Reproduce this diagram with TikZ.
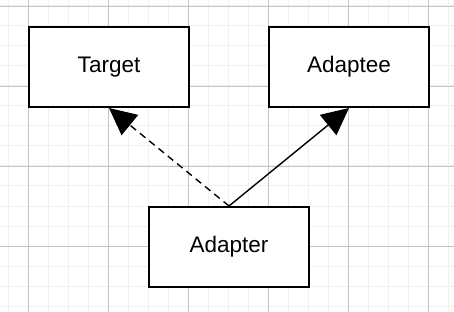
\documentclass[tikz,border=0pt]{standalone}
\usepackage{fontspec}
\setmainfont{Liberation Sans}
\usetikzlibrary{arrows.meta}
\definecolor{gridminor}{HTML}{F1F1F1}
\definecolor{gridmajor}{HTML}{C4C4C4}
\begin{document}
\begin{tikzpicture}[x=1pt,y=-1pt,
  classbox/.style={draw=black, line width=2pt, fill=white, minimum width=160pt, minimum height=80pt, inner sep=0pt, font=\fontsize{22.5}{26}\selectfont},
  conn/.style={line width=1.4pt, -{Triangle[length=27pt,width=26pt]}}]
\useasboundingbox (0,0) rectangle (454,312);
\fill[white] (0,0) rectangle (454,312);
% minor grid
\foreach \x in {8,28,...,448} \draw[gridminor, line width=1pt] (\x,0) -- (\x,312);
\foreach \y in {6,26,...,306} \draw[gridminor, line width=1pt] (0,\y) -- (454,\y);
% major grid
\foreach \x in {28,108,...,428} \draw[gridmajor, line width=0.9pt] (\x,0) -- (\x,312);
\foreach \y in {6,86,...,246} \draw[gridmajor, line width=0.9pt] (0,\y) -- (454,\y);
% boxes
\node[classbox] (target) at (109,67) {Target};
\node[classbox] (adaptee) at (349,67) {Adaptee};
\node[classbox] (adapter) at (229,247) {Adapter};
% connectors
\draw[conn, dash pattern=on 7pt off 5pt] (adapter.north) -- (target.south);
\draw[conn] (adapter.north) -- (adaptee.south);
\end{tikzpicture}
\end{document}
